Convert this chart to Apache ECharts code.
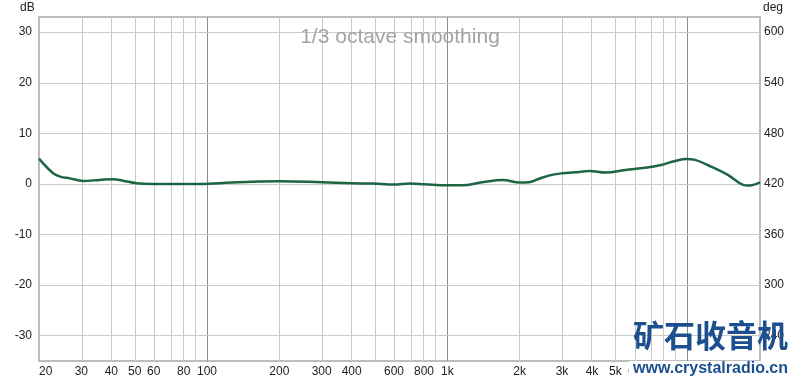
<!DOCTYPE html>
<html><head><meta charset="utf-8">
<script src="https://cdn.jsdelivr.net/npm/echarts@6/dist/echarts.min.js"></script>
<style>html,body{margin:0;padding:0;background:#fff}#c{width:800px;height:382px}</style>
</head><body><div id="c"></div>
<script>
// Frequency response (Hz) and level (dB)
const freqs = [20, 22.9, 24.5, 26.9, 30.5, 35.8, 40.6, 44.6, 51, 59, 93, 127, 165, 200, 300, 400, 490, 600, 700, 805, 1000, 1150, 1400, 1700, 2000, 2180, 2380, 2640, 3000, 3400, 3900, 4560, 5500, 6670, 7760, 8870, 9860, 10740, 12500, 14700, 17000, 17800, 20000];
const levels = [5.0, 2.1, 1.45, 1.1, 0.6, 0.8, 0.93, 0.65, 0.14, 0.0, 0.0, 0.27, 0.46, 0.53, 0.33, 0.13, 0.07, -0.13, 0.07, -0.07, -0.27, -0.27, 0.33, 0.8, 0.27, 0.33, 0.93, 1.65, 2.1, 2.3, 2.57, 2.24, 2.77, 3.2, 3.76, 4.55, 4.95, 4.75, 3.43, 1.78, -0.2, -0.33, 0.33];
// Axis ticks
const gridFreqs = [30,40,50,60,70,80,90,100,200,300,400,500,600,700,800,900,1000,2000,3000,4000,5000,6000,7000,8000,9000,10000];
const decadeFreqs = [100, 1000, 10000];
const freqLabels = [20,30,40,50,60,80,100,200,300,400,600,800,1000,2000,3000,4000,5000,6000,8000,10000,20000];
const dbTicks = [-30,-20,-10,0,10,20,30];
const degTicks = [240,300,360,420,480,540,600];
const titleText = '1/3 octave smoothing';

const lg = Math.log10;
const chart = echarts.init(document.getElementById('c'));
const font = '"Liberation Sans", Arial, sans-serif';
const vLines = gridFreqs.map(f => ({xAxis: lg(f), lineStyle: {color: decadeFreqs.includes(f) ? '#8c8c8c' : '#cacaca', width: 1, type: 'solid'}}));
const hLines = dbTicks.map(v => ({yAxis: v, lineStyle: {color: '#cacaca', width: 1, type: 'solid'}}));

chart.setOption({
  animation: false,
  backgroundColor: '#fff',
  title: {text: titleText, left: 'center', top: 22, textStyle: {color: '#a3a3a3', fontSize: 21, fontWeight: 'normal', fontFamily: font}},
  grid: {left: 39, right: 40, top: 17, bottom: 21, show: true, borderColor: '#bdbdbd', borderWidth: 2, backgroundColor: '#fff'},
  xAxis: {
    type: 'value', min: lg(20), max: lg(20000),
    axisLine: {show: false}, axisTick: {show: false}, splitLine: {show: false},
    axisLabel: {
      customValues: freqLabels.map(lg), margin: 5, color: '#222', fontSize: 12, fontFamily: font,
      alignMinLabel: 'left',
      formatter: v => { const f = Math.round(Math.pow(10, v)); return f >= 1000 ? (f/1000) + 'k' : String(f); }
    }
  },
  yAxis: [
    {type: 'value', min: -35, max: 33, position: 'left',
     axisLine: {show: false}, axisTick: {show: false}, splitLine: {show: false},
     axisLabel: {customValues: dbTicks, margin: 7, color: '#222', fontSize: 12, fontFamily: font}},
    {type: 'value', min: 210, max: 618, position: 'right',
     axisLine: {show: false}, axisTick: {show: false}, splitLine: {show: false},
     axisLabel: {customValues: degTicks, margin: 4, color: '#222', fontSize: 12, fontFamily: font}}
  ],
  graphic: [
    {type: 'text', left: 20, top: 2, style: {text: 'dB', fill: '#222', font: '12px ' + font}},
    {type: 'text', left: 763, top: 2, style: {text: 'deg', fill: '#222', font: '12px ' + font}},
    {type: 'text', left: 633, top: 320, z: 100, style: {text: '矿石收音机', fill: '#1b4f8e', font: 'bold 31px "Noto Sans CJK SC", sans-serif'}},
    {type: 'text', left: 629, top: 361, z: 100, style: {text: 'www.crystalradio.cn', fill: '#1b4f8e', font: 'bold 16px ' + font, backgroundColor: '#fff', padding: [0, 2, 0, 4]}}
  ],
  series: [
    {type: 'line', data: [], z: 1, silent: true,
     markLine: {silent: true, symbol: ['none', 'none'], label: {show: false}, animation: false, data: vLines.concat(hLines)}},
    {type: 'line', z: 5, smooth: 0.4, showSymbol: false, symbol: 'none',
     lineStyle: {color: '#1d6643', width: 2.5},
     data: freqs.map((f, i) => [lg(f), levels[i]])}
  ]
});
</script></body></html>
